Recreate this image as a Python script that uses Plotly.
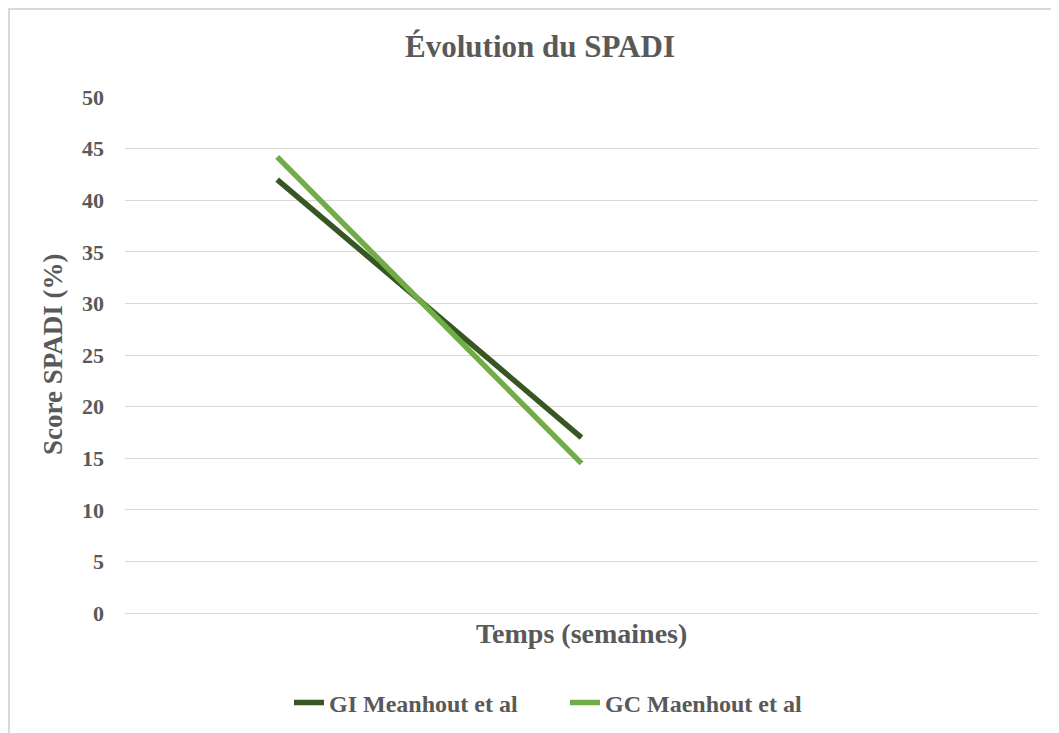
import plotly.graph_objects as go

categories = ["T0", "T1", "T2"]
gi_values = [42.0, 17.0, None]
gc_values = [44.2, 14.5, None]
y_ticks = [0, 5, 10, 15, 20, 25, 30, 35, 40, 45, 50]

FONT = "Liberation Serif"
TXT = "#595959"
GRID = "#D9D9D9"

fig = go.Figure()
fig.add_trace(go.Scatter(x=categories, y=gi_values, mode="lines", name="<b>GI Meanhout et al</b>",
                         line=dict(color="#375623", width=5.5)))
fig.add_trace(go.Scatter(x=categories, y=gc_values, mode="lines", name="<b>GC Maenhout et al</b>",
                         line=dict(color="#70AD47", width=5.5)))

# the page body adds an 8px offset; coordinates below are in figure space
W, H = 1059, 733
L, T = 117, 89
pw, ph = 913, 516
R, B = W - L - pw, H - T - ph

fig.update_layout(
    width=W, height=H,
    margin=dict(l=L, r=R, t=T, b=B, autoexpand=False),
    paper_bgcolor="white", plot_bgcolor="white",
    font=dict(family=FONT, color=TXT),
    title=dict(text="<b>Évolution du SPADI</b>", x=532 / W, xref="container", xanchor="center",
               y=1 - 38 / H, yref="container", yanchor="middle",
               font=dict(family=FONT, size=31, color=TXT)),
    xaxis=dict(type="category", range=[-0.5, 2.5], showticklabels=False, showgrid=False,
               zeroline=False, showline=False, ticks=""),
    yaxis=dict(range=[0, 50], tickvals=y_ticks, showgrid=True, gridcolor=GRID, gridwidth=1,
               zeroline=True, zerolinecolor=GRID, zerolinewidth=1, showline=False,
               ticks="", ticklabelstandoff=20,
               tickfont=dict(family=FONT, size=22, color=TXT, weight="bold")),
    showlegend=True,
    legend=dict(orientation="h", x=(281 - L) / pw, xanchor="left", y=(T + ph - 695) / ph,
                yanchor="middle", font=dict(family=FONT, size=24, color=TXT),
                entrywidth=231, entrywidthmode="pixels",
                bgcolor="rgba(0,0,0,0)", borderwidth=0),
    annotations=[
        dict(text="<b>Temps (semaines)</b>", xref="paper", yref="paper", x=0.5,
             y=(T + ph - 625) / ph, xanchor="center", yanchor="middle", showarrow=False,
             font=dict(family=FONT, size=28, color=TXT)),
        dict(text="<b>Score SPADI (%)</b>", xref="paper", yref="paper", x=(45 - L) / pw,
             y=0.5, xanchor="center", yanchor="middle", showarrow=False, textangle=-90,
             font=dict(family=FONT, size=27, color=TXT)),
    ],
    shapes=[
        dict(type="rect", xref="paper", yref="paper", x0=(1 - L) / pw, x1=(W + 20 - L) / pw,
             y0=-(B + 20) / ph, y1=1 + (T - 1) / ph, line=dict(color=GRID, width=2),
             fillcolor="rgba(0,0,0,0)", layer="below"),
    ],
)

fig.write_html("out.html")
